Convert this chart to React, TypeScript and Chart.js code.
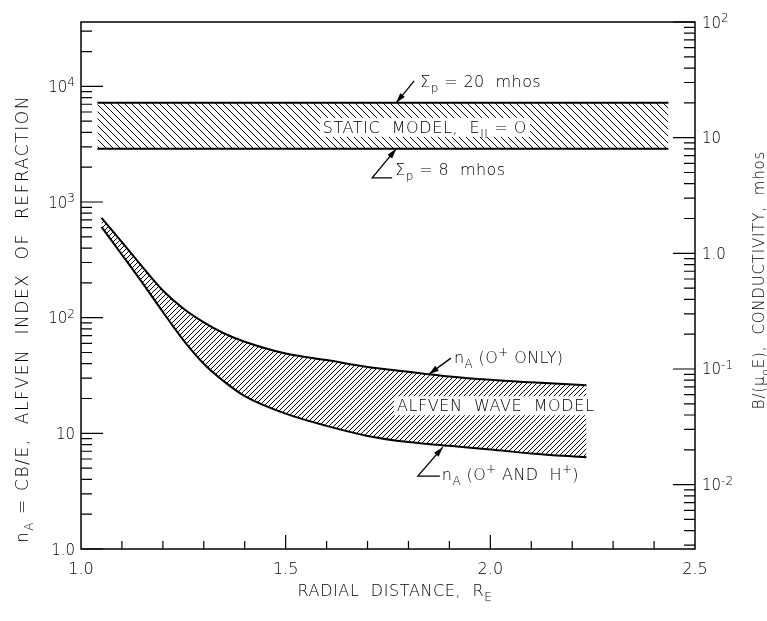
import React, { useEffect, useRef } from 'react';
import { Chart, registerables } from 'chart.js';

Chart.register(...registerables);

// ---------- data ----------
// Static model band, in mhos (right axis)
const staticX = [1.04, 2.435];
const staticTop = [20, 20]; // Σp = 20 mhos
const staticBottom = [8, 8]; // Σp = 8 mhos

// Alfven wave model band, n_A (left axis)
const alfvenX = [1.05, 1.1, 1.15, 1.2, 1.25, 1.3, 1.35, 1.4, 1.5, 1.6, 1.7, 1.8, 1.9, 2.0, 2.1, 2.235];
const alfvenOplus = [730, 450, 275, 172, 120, 91, 73, 62, 49, 43, 37.5, 34, 31, 29, 27.6, 26];
const alfvenOplusHplus = [610, 350, 200, 112, 64, 40, 28, 21, 14.8, 11.6, 9.5, 8.4, 7.8, 7.25, 6.7, 6.2];

// axes
const xTicks = [1.0, 1.5, 2.0, 2.5];
const xTickLabels = ['1.0', '1.5', '2.0', '2.5'];
const xMinorTicks = [1.1, 1.2, 1.3, 1.4, 1.6, 1.7, 1.8, 1.9, 2.1, 2.2, 2.3, 2.4];
const yTicks = [1, 10, 100, 1000, 10000];
const yTickBase = ['1.0', '10', '10', '10', '10'];
const yTickExp = ['', '', '2', '3', '4'];
const y2Ticks = [0.01, 0.1, 1, 10, 100];
const y2TickBase = ['10', '10', '1.0', '10', '10'];
const y2TickExp = ['-2', '-1', '', '', '2'];

const Y_MIN = 1;
const Y_MAX = 36000;
const RATIO = 360; // n_A per mho

const FAM = '"DejaVu Sans", sans-serif';
const WEIGHT = '200';

type Part = [string, 'n' | 'sub' | 'sup'];

function drawRich(
  ctx: CanvasRenderingContext2D,
  parts: Part[],
  x: number,
  y: number,
  size: number,
  spacing: number,
  align: 'left' | 'center' | 'right',
  draw = true
) {
  const segs = parts.map(([t, k]) => {
    const s = k === 'n' ? size : Math.round(size * 0.72);
    ctx.font = `${WEIGHT} ${s}px ${FAM}`;
    (ctx as any).letterSpacing = spacing + 'px';
    const w = ctx.measureText(t).width;
    return { t, k, s, w };
  });
  const total = segs.reduce((a, b) => a + b.w, 0);
  const left = align === 'center' ? x - total / 2 : align === 'right' ? x - total : x;
  let cx = left;
  ctx.textAlign = 'left';
  ctx.textBaseline = 'alphabetic';
  if (draw) {
    for (const g of segs) {
      ctx.font = `${WEIGHT} ${g.s}px ${FAM}`;
      (ctx as any).letterSpacing = spacing + 'px';
      const dy = g.k === 'sub' ? size * 0.32 : g.k === 'sup' ? -size * 0.45 : 0;
      ctx.fillText(g.t, cx, y + dy);
      cx += g.w;
    }
  }
  (ctx as any).letterSpacing = '0px';
  return { left, width: total };
}

// tick label "10" with a large raised exponent, "10" centred on the tick
function drawPow(
  ctx: CanvasRenderingContext2D,
  base: string,
  exp: string,
  x: number,
  y: number,
  align: 'left' | 'right'
) {
  ctx.textAlign = 'left';
  ctx.textBaseline = 'alphabetic';
  ctx.font = `${WEIGHT} 15px ${FAM}`;
  const w1 = ctx.measureText(base).width;
  ctx.font = `${WEIGHT} 12px ${FAM}`;
  const w2 = exp ? ctx.measureText(exp).width : 0;
  const left = align === 'right' ? x - w1 - w2 : x;
  ctx.font = `${WEIGHT} 15px ${FAM}`;
  ctx.fillText(base, left, y + 5.5);
  if (exp) {
    ctx.font = `${WEIGHT} 12px ${FAM}`;
    ctx.fillText(exp, left + w1, y);
  }
}

function arrow(ctx: CanvasRenderingContext2D, pts: [number, number][]) {
  ctx.beginPath();
  ctx.moveTo(pts[0][0], pts[0][1]);
  for (let i = 1; i < pts.length; i++) ctx.lineTo(pts[i][0], pts[i][1]);
  ctx.stroke();
  const [x1, y1] = pts[pts.length - 2];
  const [x2, y2] = pts[pts.length - 1];
  const a = Math.atan2(y2 - y1, x2 - x1);
  const L = 10;
  const Wd = 3;
  ctx.beginPath();
  ctx.moveTo(x2, y2);
  ctx.lineTo(x2 - L * Math.cos(a) + Wd * Math.sin(a), y2 - L * Math.sin(a) - Wd * Math.cos(a));
  ctx.lineTo(x2 - L * Math.cos(a) - Wd * Math.sin(a), y2 - L * Math.sin(a) + Wd * Math.cos(a));
  ctx.closePath();
  ctx.fill();
}

function makeHatch(size: number, dir: 'fwd' | 'back', lw: number) {
  const c = document.createElement('canvas');
  c.width = size;
  c.height = size;
  const g = c.getContext('2d')!;
  g.strokeStyle = '#000';
  g.lineWidth = lw;
  g.beginPath();
  if (dir === 'back') {
    g.moveTo(-1, -1);
    g.lineTo(size + 1, size + 1);
    g.moveTo(-1, size - 1);
    g.lineTo(1, size + 1);
    g.moveTo(size - 1, -1);
    g.lineTo(size + 1, 1);
  } else {
    g.moveTo(-1, size + 1);
    g.lineTo(size + 1, -1);
    g.moveTo(-1, 1);
    g.lineTo(1, -1);
    g.moveTo(size - 1, size + 1);
    g.lineTo(size + 1, size - 1);
  }
  g.stroke();
  return g.createPattern(c, 'repeat')!;
}

const logTicks = (min: number, max: number) => {
  const out: { v: number; major: boolean }[] = [];
  for (let e = -4; e <= 5; e++) {
    for (let k = 1; k <= 9; k++) {
      const v = k * Math.pow(10, e);
      if (v >= min * 0.9999 && v <= max * 1.0001) out.push({ v, major: k === 1 });
    }
  }
  return out;
};

const framePlugin = {
  id: 'frameTicks',
  afterDraw(chart: any) {
    const { ctx, chartArea: ca, scales } = chart;
    const xs = scales.x;
    const ys = scales.y;
    const y2s = scales.y2;
    ctx.save();
    ctx.strokeStyle = '#000';
    ctx.lineWidth = 1.5;
    ctx.strokeRect(ca.left, ca.top, ca.right - ca.left, ca.bottom - ca.top);
    ctx.lineWidth = 1.2;
    ctx.beginPath();
    for (const t of logTicks(Y_MIN, Y_MAX)) {
      const py = ys.getPixelForValue(t.v);
      ctx.moveTo(ca.left, py);
      ctx.lineTo(ca.left + (t.major ? 22 : 11), py);
    }
    for (const t of logTicks(Y_MIN / RATIO, Y_MAX / RATIO)) {
      const py = y2s.getPixelForValue(t.v);
      ctx.moveTo(ca.right, py);
      ctx.lineTo(ca.right - (t.major ? 22 : 11), py);
    }
    for (const v of xMinorTicks) {
      const px = xs.getPixelForValue(v);
      ctx.moveTo(px, ca.bottom);
      ctx.lineTo(px, ca.bottom - 8);
    }
    for (const v of [1.5, 2.0]) {
      const px = xs.getPixelForValue(v);
      ctx.moveTo(px, ca.bottom);
      ctx.lineTo(px, ca.bottom - 14);
    }
    ctx.stroke();

    ctx.fillStyle = '#000';
    // y tick labels
    yTicks.forEach((v, i) => {
      drawPow(ctx, yTickBase[i], yTickExp[i], ca.left - 6, ys.getPixelForValue(v), 'right');
    });
    y2Ticks.forEach((v, i) => {
      drawPow(ctx, y2TickBase[i], y2TickExp[i], ca.right + 7, y2s.getPixelForValue(v), 'left');
    });

    // axis titles
    ctx.save();
    ctx.translate(28, 319);
    ctx.rotate(-Math.PI / 2);
    drawRich(
      ctx,
      [
        ['n', 'n'],
        ['A', 'sub'],
        [' = CB/E,  ALFVEN  INDEX  OF  REFRACTION', 'n'],
      ],
      0,
      0,
      17,
      1.6,
      'center'
    );
    ctx.restore();

    ctx.save();
    ctx.translate(764, 280);
    ctx.rotate(-Math.PI / 2);
    drawRich(
      ctx,
      [
        ['B/(μ', 'n'],
        ['o', 'sub'],
        ['E),  CONDUCTIVITY,  mhos', 'n'],
      ],
      0,
      0,
      15,
      0.8,
      'center'
    );
    ctx.restore();

    drawRich(
      ctx,
      [
        ['RADIAL  DISTANCE,  R', 'n'],
        ['E', 'sub'],
      ],
      (ca.left + ca.right) / 2 + 7,
      596,
      16,
      0.6,
      'center'
    );
    ctx.restore();
  },
  afterDatasetsDraw(chart: any) {
    const { ctx, scales } = chart;
    const xs = scales.x;
    const ys = scales.y;
    const y2s = scales.y2;
    ctx.save();
    ctx.fillStyle = '#000';
    ctx.strokeStyle = '#000';
    ctx.lineWidth = 1.3;

    // labels inside bands (white background)
    const bandLabel = (parts: Part[], cx: number, base: number) => {
      const m = drawRich(ctx, parts, cx, base, 16, 0.6, 'center', false);
      ctx.fillStyle = '#fff';
      ctx.fillRect(m.left - 3, base - 15, m.width + 6, 19);
      ctx.fillStyle = '#000';
      drawRich(ctx, parts, cx, base, 16, 0.6, 'center');
    };
    const sCx = xs.getPixelForValue(1.84);
    const sCy = y2s.getPixelForValue(Math.sqrt(20 * 8));
    bandLabel(
      [
        ['STATIC  MODEL,  E', 'n'],
        ['II', 'sub'],
        [' = O', 'n'],
      ],
      sCx,
      sCy + 7
    );
    const aCx = xs.getPixelForValue(2.013);
    const aCy = ys.getPixelForValue(17.5);
    bandLabel([['ALFVEN  WAVE  MODEL', 'n']], aCx, aCy + 6);

    // Σp = 20 mhos
    const t20x = xs.getPixelForValue(1.77);
    const t20y = y2s.getPixelForValue(20);
    arrow(ctx, [
      [t20x + 18, t20y - 22],
      [t20x, t20y],
    ]);
    drawRich(
      ctx,
      [
        ['Σ', 'n'],
        ['p', 'sub'],
        [' = 20  mhos', 'n'],
      ],
      t20x + 24,
      t20y - 16,
      16,
      0.4,
      'left'
    );

    // Σp = 8 mhos
    const t8x = xs.getPixelForValue(1.77);
    const t8y = y2s.getPixelForValue(8);
    arrow(ctx, [
      [t8x - 4, t8y + 29],
      [t8x - 24, t8y + 29],
      [t8x, t8y],
    ]);
    drawRich(
      ctx,
      [
        ['Σ', 'n'],
        ['p', 'sub'],
        [' = 8  mhos', 'n'],
      ],
      t8x - 1,
      t8y + 26,
      16,
      0.4,
      'left'
    );

    // nA (O+ ONLY)
    const toX = xs.getPixelForValue(1.85);
    const toY = ys.getPixelForValue(32.5);
    arrow(ctx, [
      [toX + 22, toY - 16],
      [toX, toY],
    ]);
    drawRich(
      ctx,
      [
        ['n', 'n'],
        ['A', 'sub'],
        [' (O', 'n'],
        ['+', 'sup'],
        [' ONLY)', 'n'],
      ],
      toX + 25,
      toY - 11,
      16,
      0.4,
      'left'
    );

    // nA (O+ AND H+)
    const thX = xs.getPixelForValue(1.884);
    const thY = ys.getPixelForValue(7.9) + 2;
    arrow(ctx, [
      [thX - 3, thY + 29],
      [thX - 25, thY + 29],
      [thX, thY],
    ]);
    drawRich(
      ctx,
      [
        ['n', 'n'],
        ['A', 'sub'],
        [' (O', 'n'],
        ['+', 'sup'],
        [' AND  H', 'n'],
        ['+', 'sup'],
        [')', 'n'],
      ],
      thX - 1,
      thY + 33,
      16,
      0.4,
      'left'
    );
    ctx.restore();
  },
};

export default function App() {
  const ref = useRef<HTMLCanvasElement>(null);
  useEffect(() => {
    const canvas = ref.current!;
    const hatchBack = makeHatch(7, 'back', 1);
    const hatchFwd = makeHatch(5, 'fwd', 1);
    const tickFont = { family: FAM, size: 16, weight: WEIGHT as any };
    const chart = new Chart(canvas, {
      type: 'line',
      data: {
        datasets: [
          {
            label: 'Σp = 20 mhos',
            data: staticX.map((x, i) => ({ x, y: staticTop[i] })),
            yAxisID: 'y2',
            borderColor: '#000',
            borderWidth: 2,
            pointRadius: 0,
            fill: false,
          },
          {
            label: 'Σp = 8 mhos',
            data: staticX.map((x, i) => ({ x, y: staticBottom[i] })),
            yAxisID: 'y2',
            borderColor: '#000',
            borderWidth: 2,
            pointRadius: 0,
            fill: '-1',
            backgroundColor: hatchBack,
          },
          {
            label: 'nA (O+ ONLY)',
            data: alfvenX.map((x, i) => ({ x, y: alfvenOplus[i] })),
            yAxisID: 'y',
            borderColor: '#000',
            borderWidth: 2,
            pointRadius: 0,
            cubicInterpolationMode: 'monotone',
            fill: false,
          },
          {
            label: 'nA (O+ AND H+)',
            data: alfvenX.map((x, i) => ({ x, y: alfvenOplusHplus[i] })),
            yAxisID: 'y',
            borderColor: '#000',
            borderWidth: 2,
            pointRadius: 0,
            cubicInterpolationMode: 'monotone',
            fill: '-1',
            backgroundColor: hatchFwd,
          },
        ],
      },
      options: {
        responsive: false,
        animation: false,
        layout: { padding: { top: 22, left: 0, right: 0, bottom: 0 } },
        plugins: { legend: { display: false }, tooltip: { enabled: false } },
        scales: {
          x: {
            type: 'linear',
            min: 1,
            max: 2.5,
            afterFit: (s: any) => {
              s.height = 72;
            },
            afterBuildTicks: (s: any) => {
              s.ticks = xTicks.map((v) => ({ value: v }));
            },
            grid: { display: false, drawTicks: false },
            border: { display: false },
            ticks: {
              color: '#000',
              font: tickFont,
              padding: 11,
              maxRotation: 0,
              autoSkip: false,
              callback: (v: any) => xTickLabels[xTicks.indexOf(Number(v))] ?? '',
            },
          },
          y: {
            type: 'logarithmic',
            position: 'left',
            min: Y_MIN,
            max: Y_MAX,
            afterFit: (s: any) => {
              s.width = 81;
            },
            afterBuildTicks: (s: any) => {
              s.ticks = yTicks.map((v) => ({ value: v }));
            },
            grid: { display: false, drawTicks: false },
            border: { display: false },
            ticks: { display: false },
          },
          y2: {
            type: 'logarithmic',
            position: 'right',
            min: Y_MIN / RATIO,
            max: Y_MAX / RATIO,
            afterFit: (s: any) => {
              s.width = 72;
            },
            afterBuildTicks: (s: any) => {
              s.ticks = y2Ticks.map((v) => ({ value: v }));
            },
            grid: { display: false, drawTicks: false },
            border: { display: false },
            ticks: { display: false },
          },
        },
      },
      plugins: [framePlugin],
    });
    return () => chart.destroy();
  }, []);
  return (
    <canvas
      ref={ref}
      width={767}
      height={621}
      style={{ position: 'fixed', left: 0, top: 0, width: 767, height: 621 }}
    />
  );
}
